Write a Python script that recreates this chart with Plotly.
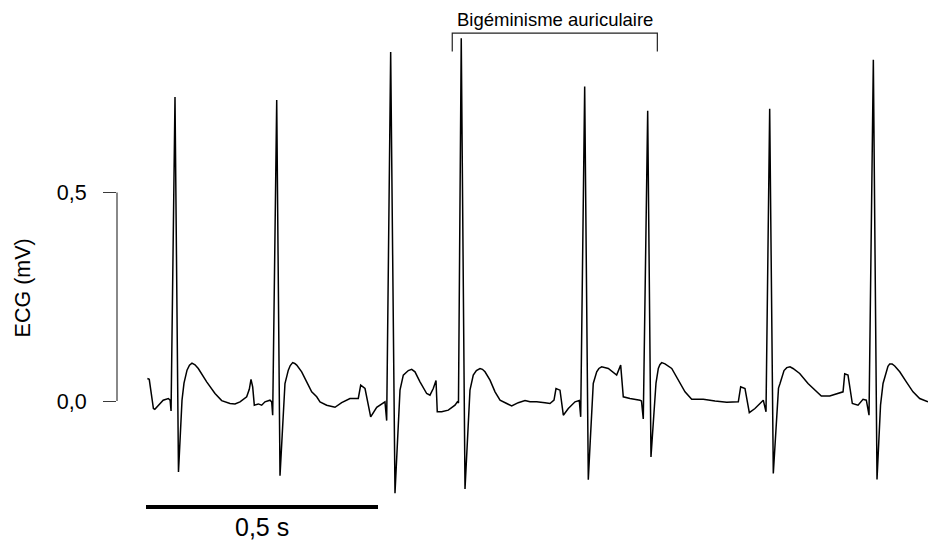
import plotly.graph_objects as go

# ECG trace: time in ms, amplitude in mV
time_ms = [
    3, 7, 16, 19, 27, 37, 48, 52, 54, 62.5, 70,
    74.3, 77.6, 81.9, 88.4, 93.7, 99.1, 105.6, 112.7, 130.8, 148.7, 163.1, 181, 191.8,
    202.6, 217, 222.6, 226.3, 229.9, 233.4, 242, 249.3, 256.4, 267.2, 270.9,
    273, 281.7, 288.8,
    293, 296.3, 299.5, 306.7, 310.9, 316.1, 320.5, 324.8, 335.5, 346.3, 357.1, 367.9, 375,
    389.4, 407.3, 421.7, 439.6, 457.5, 462.7, 472, 479, 484.2, 497.2, 515,
    518.7, 527.3, 536.6,
    541, 544.1, 547.4, 554.5, 565.3, 572.6, 579.7, 590.5, 604.9, 612, 619.1,
    625, 627.7, 637.2, 651.5, 665.9, 670.9, 673.4,
    679.4, 687.5,
    691.8, 695, 698.2, 705.3, 712, 719.8, 725, 730.6, 741.4, 752.2, 763, 777.4, 788.1,
    802.3, 816.8, 827.6, 842, 859.8, 870.6, 879.3, 883.6, 892.2, 899.4, 910.1,
    924.6, 933.8, 936.8,
    945.4, 953.2,
    957.5, 960.7, 963.9, 971.3, 976, 982, 996.3, 1014.3, 1023, 1028.6, 1043, 1064.6,
    1067.8, 1071.7,
    1081.2, 1088.3,
    1092.6, 1095.9, 1099.1, 1104.1, 1107.5, 1111.4, 1118.5, 1133, 1147.2, 1161.6, 1176,
    1201, 1226.3, 1251.5, 1276.5, 1281.6, 1290.9, 1300.2, 1312.4, 1330.3, 1336.2,
    1344.1, 1351.9,
    1356.2, 1359.5, 1363.1, 1366.4, 1375, 1381, 1387.9, 1394.4, 1408.8, 1426.7, 1441.2,
    1455.4, 1473.5, 1495, 1502.2, 1505.8, 1512.9, 1522.2, 1534.5, 1545.3, 1552.4,
    1558.2,
    1567.5, 1575.4,
    1579.7, 1583, 1588.4, 1595.5, 1599, 1602.8, 1608, 1613.6, 1624.4, 1638.6, 1653, 1667.4,
    1685.3,
]
ecg_mv = [
    0.054, 0.052, -0.018, -0.020, -0.010, 0.002, 0.006, 0.002, -0.024, 0.729, -0.170,
    -0.070, 0.002, 0.043, 0.074, 0.086, 0.091, 0.087, 0.078, 0.046, 0.018, 0.001, -0.006, -0.007,
    -0.002, 0.010, 0.028, 0.052, 0.034, -0.010, -0.007, -0.010, -0.002, 0.002, -0.002,
    -0.034, 0.722, -0.179,
    -0.094, -0.010, 0.042, 0.074, 0.085, 0.092, 0.090, 0.086, 0.070, 0.046, 0.022, 0.010, -0.002,
    -0.010, -0.015, -0.004, 0.006, 0.006, 0.038, 0.030, -0.010, -0.038, -0.015, -0.002,
    -0.047, 0.837, -0.221,
    -0.118, -0.022, 0.026, 0.062, 0.073, 0.076, 0.070, 0.046, 0.018, 0.014, 0.030,
    0.049, -0.026, -0.026, -0.022, -0.010, -0.002, -0.005,
    0.870, -0.211,
    -0.118, -0.022, 0.026, 0.062, 0.073, 0.078, 0.076, 0.070, 0.050, 0.022, 0.002, -0.006, -0.012,
    -0.004, 0.001, -0.002, -0.002, -0.004, -0.006, 0.002, 0.030, 0.026, -0.034, -0.018,
    -0.002, 0.001, -0.038,
    0.754, -0.189,
    -0.094, -0.010, 0.042, 0.070, 0.078, 0.082, 0.078, 0.062, 0.086, 0.010, 0.006, 0.002,
    0.000, -0.043,
    0.696, -0.134,
    -0.058, 0.002, 0.043, 0.078, 0.087, 0.092, 0.089, 0.078, 0.050, 0.022, 0.004,
    0.004, 0.000, -0.003, -0.002, 0.034, 0.030, -0.028, -0.018, 0.002, -0.026,
    0.701, -0.174,
    -0.094, -0.010, 0.031, 0.042, 0.073, 0.080, 0.082, 0.078, 0.066, 0.042, 0.026,
    0.012, 0.012, 0.020, 0.022, 0.065, 0.062, -0.006, -0.010, 0.004, 0.002,
    -0.034,
    0.818, -0.188,
    -0.094, -0.010, 0.042, 0.074, 0.083, 0.089, 0.089, 0.084, 0.070, 0.046, 0.022, 0.006,
    -0.002,
]

y_ticks = [0.0, 0.5]
y_tick_labels = ["0,0", "0,5"]

scale_bar_ms = [0, 500]
scale_bar_label = "0,5 s"
bracket_ms = [660, 1102]
bracket_label = "Bigéminisme auriculaire"

FONT = "Liberation Sans, Arial, Helvetica, sans-serif"
AXIS_COLOR = "#3a3a3a"

fig = go.Figure()
fig.add_trace(go.Scatter(
    x=time_ms, y=ecg_mv, mode="lines",
    line=dict(color="black", width=1.5),
    hoverinfo="skip", showlegend=False,
))

# time scale bar
fig.add_trace(go.Scatter(
    x=scale_bar_ms, y=[-0.254, -0.254], mode="lines",
    line=dict(color="black", width=4),
    hoverinfo="skip", showlegend=False,
))
fig.add_annotation(
    x=sum(scale_bar_ms) / 2, y=-0.302, text=scale_bar_label, showarrow=False,
    font=dict(family=FONT, size=25, color="black"),
    xanchor="center", yanchor="middle",
)

# bracket marking the bigeminy episode
b0, b1 = bracket_ms
fig.add_trace(go.Scatter(
    x=[b0, b0, b1, b1], y=[0.838, 0.882, 0.882, 0.838], mode="lines",
    line=dict(color="#222222", width=1.2),
    hoverinfo="skip", showlegend=False,
))
fig.add_annotation(
    x=(b0 + b1) / 2, y=0.882, text=bracket_label, showarrow=False,
    font=dict(family=FONT, size=18.5, color="black"),
    xanchor="center", yanchor="bottom", yshift=1,
)

# y axis line spanning only the labelled range
fig.add_shape(
    type="line", xref="paper", yref="y", x0=0, x1=0,
    y0=y_ticks[0], y1=y_ticks[-1],
    line=dict(color=AXIS_COLOR, width=1.2),
)
fig.add_annotation(
    xref="paper", yref="y", x=(23 - 117) / 811, y=0.27,
    text="ECG (mV)", textangle=-90, showarrow=False,
    font=dict(family=FONT, size=21.5, color="black"),
    xanchor="center", yanchor="middle",
)

fig.update_layout(
    width=928, height=542,
    margin=dict(l=117, r=0, t=0, b=0),
    paper_bgcolor="white", plot_bgcolor="white",
    xaxis=dict(range=[-62.5, 1685.3], visible=False, fixedrange=True),
    yaxis=dict(
        range=[-0.3381, 0.9616],
        tickvals=y_ticks, ticktext=y_tick_labels,
        ticks="outside", ticklen=13, tickwidth=1.2, tickcolor=AXIS_COLOR,
        ticklabelstandoff=12,
        tickfont=dict(family=FONT, size=21.5, color="black"),
        showline=False, showgrid=False, zeroline=False,
    ),
)

fig.write_html("out.html")
